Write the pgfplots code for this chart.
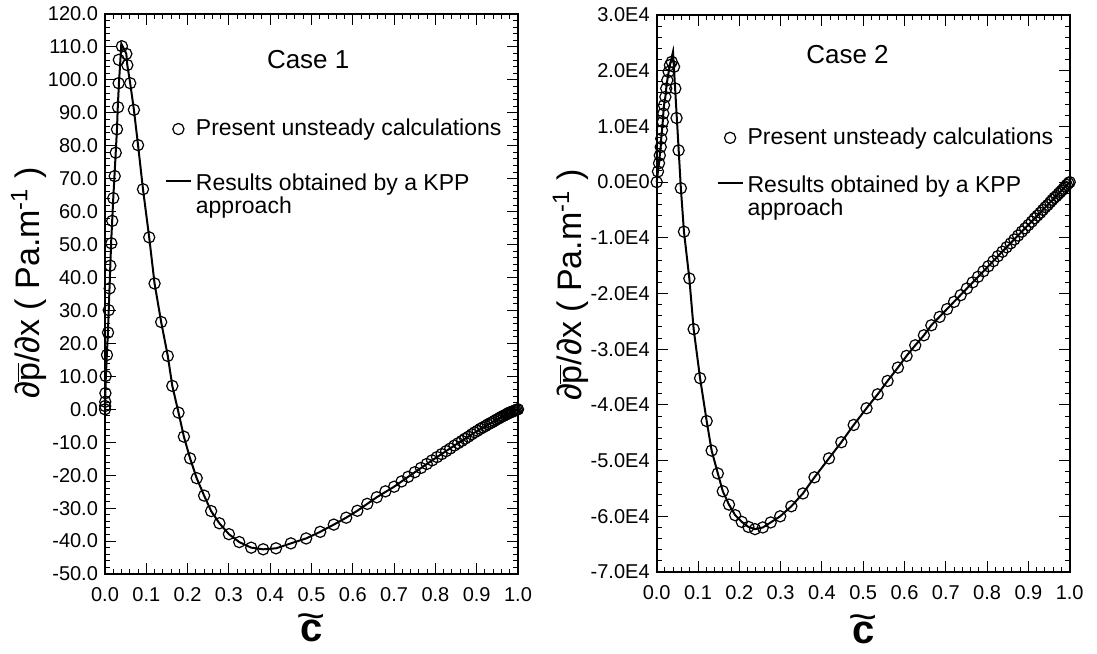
\documentclass[border=0pt]{standalone}
\usepackage{pgfplots}
\pgfplotsset{compat=1.18}
\usepackage{pgfplotstable}
\usepackage{graphicx}
\usepackage{fontspec}
\setmainfont{Liberation Sans}

\pgfplotstableread{
c v
0.0000 0
0.0003 1.0
0.0006 2.3
0.0010 4.9
0.0017 10.1
0.0048 16.5
0.0073 23.3
0.0090 30.1
0.0113 36.7
0.0128 43.6
0.0153 50.4
0.0175 57.2
0.0200 64.1
0.0235 70.8
0.0260 77.9
0.0290 85.0
0.0315 91.7
0.0330 99.0
0.0335 106.1
0.0410 110.2
0.0516 107.9
0.0540 104.5
0.0610 99.0
0.0700 90.9
0.0800 80.2
0.0920 66.8
0.1070 52.2
0.1200 38.2
0.1360 26.5
0.1520 16.2
0.1630 7.1
0.1780 -1.0
0.1910 -8.3
0.2060 -14.9
0.2220 -20.9
0.2400 -26.2
0.2570 -30.9
0.2770 -34.6
0.3000 -37.9
0.3250 -40.3
0.3540 -42.0
0.3830 -42.5
0.4140 -42.2
0.4500 -40.7
0.4870 -39.2
0.5210 -37.2
0.5540 -35.0
0.5840 -32.9
0.6110 -30.8
0.6350 -28.7
0.6580 -26.7
0.6790 -24.9
0.7000 -23.5
0.7180 -21.9
0.7340 -20.5
0.750 -19.1
0.765 -17.8
0.779 -16.6
0.792 -15.5
0.804 -14.5
0.815 -13.6
0.826 -12.7
0.836 -11.9
0.846 -11.0
0.855 -10.3
0.864 -9.6
0.872 -8.9
0.880 -8.3
0.888 -7.6
0.895 -7.0
0.902 -6.5
0.909 -5.9
0.915 -5.5
0.921 -5.1
0.927 -4.6
0.933 -4.2
0.938 -3.9
0.943 -3.5
0.948 -3.1
0.953 -2.8
0.957 -2.5
0.961 -2.2
0.965 -2.0
0.969 -1.7
0.973 -1.5
0.976 -1.2
0.979 -1.0
0.982 -0.9
0.985 -0.8
0.988 -0.6
0.991 -0.4
0.994 -0.3
0.997 -0.1
1.000 0.0
}\caseAcircles

\pgfplotstableread{
c v
0.000 0
0.001 5
0.002 10
0.0045 16.5
0.007 23.3
0.009 30
0.011 37
0.013 44
0.015 51
0.0175 57.5
0.020 64
0.023 71
0.026 78
0.029 85
0.031 92
0.034 99.5
0.037 105.5
0.0395 111.0
0.0516 107.9
0.0540 104.5
0.0610 99.0
0.0700 90.9
0.0800 80.2
0.0920 66.8
0.1070 52.2
0.1200 38.2
0.1360 26.5
0.1520 16.2
0.1630 7.1
0.1780 -1.0
0.1910 -8.3
0.2060 -14.9
0.2220 -20.9
0.2400 -26.2
0.2570 -30.9
0.2770 -34.6
0.3000 -37.9
0.3250 -40.3
0.3540 -42.0
0.3830 -42.5
0.4140 -42.2
0.4500 -40.7
0.4870 -39.2
0.5210 -37.2
0.5540 -35.0
0.5840 -32.9
0.6110 -30.8
0.6350 -28.7
0.6580 -26.7
0.7000 -23.5
0.7340 -20.5
0.792 -15.5
0.846 -11.0
0.902 -6.5
0.953 -2.8
1.000 0.0
}\caseAline

\pgfplotstableread{
c v
0.0000 0
0.0030 1900
0.0056 3400
0.0075 4800
0.0097 6300
0.0110 7800
0.0129 9300
0.0146 10800
0.0160 12300
0.0177 13800
0.0210 15300
0.0230 16800
0.0257 18300
0.0290 19800
0.0320 21000
0.0365 21600
0.0420 20700
0.0450 16800
0.0480 11500
0.0530 5700
0.0585 -1100
0.0660 -8900
0.0790 -17300
0.0895 -26400
0.1050 -35200
0.1210 -42900
0.1330 -48200
0.1480 -52300
0.1600 -55500
0.1750 -57900
0.1900 -59800
0.2060 -61000
0.2220 -61900
0.2380 -62300
0.2570 -62000
0.2760 -61100
0.2990 -60000
0.3260 -58200
0.3540 -55900
0.3820 -53000
0.4170 -49600
0.4470 -46700
0.4770 -43600
0.5080 -40600
0.5350 -38100
0.5590 -35700
0.5840 -33300
0.6050 -31200
0.6260 -29300
0.6470 -27500
0.6650 -25700
0.685 -24200
0.703 -22800
0.720 -21500
0.736 -20300
0.751 -19100
0.765 -18000
0.778 -17000
0.791 -16000
0.803 -15100
0.815 -14200
0.826 -13300
0.837 -12500
0.847 -11700
0.857 -11000
0.866 -10300
0.875 -9600
0.884 -8900
0.892 -8300
0.900 -7700
0.908 -7100
0.915 -6500
0.922 -6000
0.929 -5500
0.935 -5000
0.941 -4500
0.947 -4100
0.953 -3600
0.958 -3200
0.963 -2800
0.968 -2500
0.973 -2100
0.977 -1800
0.981 -1500
0.985 -1200
0.989 -800
0.993 -500
0.997 -200
1.000 0
}\caseBcircles

\pgfplotstableread{
c v
0.0000 0
0.0030 1900
0.0056 3400
0.0075 4800
0.0097 6300
0.0110 7800
0.0129 9300
0.0146 10800
0.0160 12300
0.0177 13800
0.0210 15300
0.0230 16800
0.0257 18300
0.0290 19800
0.0320 21000
0.0395 23400
0.0585 -1100
0.0660 -8900
0.0790 -17300
0.0895 -26400
0.1050 -35200
0.1210 -42900
0.1330 -48200
0.1480 -52300
0.1600 -55500
0.1750 -57900
0.1900 -59800
0.2060 -61000
0.2220 -61900
0.2380 -62300
0.2570 -62000
0.2760 -61100
0.2990 -60000
0.3260 -58200
0.3540 -55900
0.3820 -53000
0.4170 -49600
0.4470 -46700
0.4770 -43600
0.5080 -40600
0.5350 -38100
0.5590 -35700
0.5840 -33300
0.6050 -31200
0.6260 -29300
0.6470 -27500
0.6650 -25700
0.751 -19100
0.847 -11700
0.922 -6000
1.000 0
}\caseBline

\newcommand{\ctilde}{{\fontsize{20}{22}\selectfont\ooalign{\bfseries c\cr\hidewidth\raisebox{0.31em}{\scalebox{1.25}[1]{\textasciitilde}}\hidewidth\cr}}}

\pgfplotsset{
  myaxis/.style={
    scale only axis,
    width=206.5pt,
    xmin=0, xmax=1,
    xtick={0,0.1,0.2,0.3,0.4,0.5,0.6,0.7,0.8,0.9,1},
    xticklabels={0.0,0.1,0.2,0.3,0.4,0.5,0.6,0.7,0.8,0.9,1.0},
    minor x tick num=4,
    minor y tick num=4,
    tick align=inside,
    major tick length=5.5pt,
    minor tick length=2.5pt,
    every tick/.style={black, line width=0.5pt},
    axis line style={line width=1.1pt},
    tick label style={font=\fontsize{10}{12}\selectfont},
    xticklabel style={yshift=-3pt},
    clip=false,
    legend cell align=left,
    legend style={draw=none, fill=none, font=\fontsize{11.5}{11.5}\selectfont,
      row sep=18.5pt, inner sep=0pt, anchor=north west},
    ylabel style={rotate=0, anchor=center, font=\fontsize{17}{19}\selectfont},
    xlabel style={anchor=base},
    xlabel={\ctilde},
    ylabel={∂$\overline{\hbox{p}}$/∂x ( Pa.m\textsuperscript{-1} )},
  },
  circ/.style={only marks, mark=o, mark size=2.8pt, mark options={line width=0.6pt, black},
    legend image code/.code={\draw[#1] plot coordinates {(0.22cm,0cm)};}},
  kpp/.style={black, line width=1pt,
    legend image code/.code={\draw[#1] (0cm,5.5pt) -- (0.44cm,5.5pt);}},
}

\begin{document}
\begin{tikzpicture}
\path[use as bounding box] (0,0) rectangle (548.5pt,-326.5pt);

\begin{axis}[myaxis,
  at={(52.5pt,-287pt)}, anchor=south west,
  height=280pt,
  ymin=-50, ymax=120,
  ytick={-50,-40,-30,-20,-10,0,10,20,30,40,50,60,70,80,90,100,110,120},
  yticklabels={-50.0,-40.0,-30.0,-20.0,-10.0,0.0,10.0,20.0,30.0,40.0,50.0,60.0,70.0,80.0,90.0,100.0,110.0,120.0},
  ylabel style={at={(-0.184,0.52)}},
  xlabel style={at={(0.5,-0.121)}},
  legend style={at={(0.144,0.82)}},
]
\addplot[circ] table[x=c,y=v] {\caseAcircles};
\addlegendentry{Present unsteady calculations}
\addplot[kpp] table[x=c,y=v] {\caseAline};
\addlegendentry{\smash{\begin{tabular}[t]{@{}l@{}}Results obtained by a KPP\\approach\end{tabular}}}
\node[anchor=base, font=\fontsize{13}{15}\selectfont] at (rel axis cs:0.492,0.903) {Case 1};
\end{axis}

\begin{axis}[myaxis,
  at={(328.35pt,-286pt)}, anchor=south west,
  height=278.5pt,
  ymin=-70000, ymax=30000,
  ytick={-70000,-60000,-50000,-40000,-30000,-20000,-10000,0,10000,20000,30000},
  yticklabels={-7.0E4,-6.0E4,-5.0E4,-4.0E4,-3.0E4,-2.0E4,-1.0E4,0.0E0,1.0E4,2.0E4,3.0E4},
  scaled y ticks=false,
  ylabel style={at={(-0.208,0.515)}},
  xlabel style={at={(0.5,-0.128)}},
  legend style={at={(0.144,0.805)}, row sep=15pt},
]
\addplot[circ] table[x=c,y=v] {\caseBcircles};
\addlegendentry{Present unsteady calculations}
\addplot[kpp] table[x=c,y=v] {\caseBline};
\addlegendentry{\smash{\begin{tabular}[t]{@{}l@{}}Results obtained by a KPP\\approach\end{tabular}}}
\node[anchor=base, font=\fontsize{13}{15}\selectfont] at (rel axis cs:0.462,0.913) {Case 2};
\end{axis}
\end{tikzpicture}
\end{document}
